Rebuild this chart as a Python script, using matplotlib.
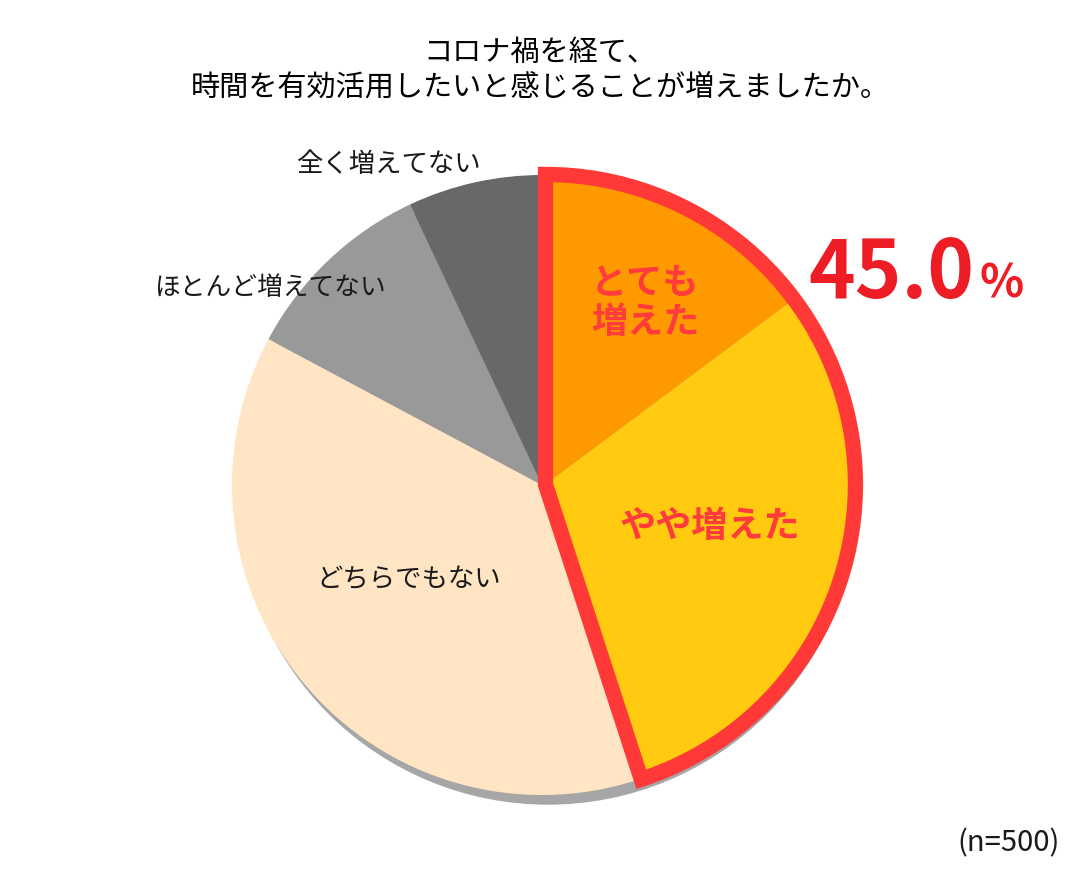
import numpy as np
import matplotlib.pyplot as plt
from matplotlib.patches import Wedge, Circle

plt.rcParams['font.family'] = ['Noto Sans CJK JP', 'DejaVu Sans']

# データ
labels = ['とても\n増えた', 'やや増えた', 'どちらでもない', 'ほとんど増えてない', '全く増えてない']
values = [14.8, 30.2, 37.8, 10.2, 7.0]
colors = ['#FF9900', '#FFCA10', '#FFE5C4', '#999999', '#686868']
title = 'コロナ禍を経て、\n時間を有効活用したいと感じることが増えましたか。'
total_label = '45.0'
n_label = '(n=500)'

fig = plt.figure(figsize=(10.8, 8.7), dpi=100)
ax = fig.add_axes([0, 0, 1, 1])

cx, cy, r = 542, 870 - 486, 310

# 影
ax.add_patch(Circle((cx + 6, cy - 9), r, color='#A6A6A6', zorder=0))

wedges, _ = ax.pie(values, colors=colors, startangle=90, counterclock=False,
                   center=(cx, cy), radius=r, frame=True,
                   wedgeprops=dict(linewidth=0))
ax.set_xlim(0, 1080)
ax.set_ylim(0, 870)
ax.set_aspect('equal')
ax.axis('off')

# 強調部分（とても＋やや）を少しずらして赤枠
t1 = wedges[1].theta1
t2 = wedges[0].theta2
mid = np.deg2rad((t1 + t2) / 2)
dx, dy = 3.5 * np.cos(mid), 3.5 * np.sin(mid)
for w in wedges[:2]:
    w.set_center((cx + dx, cy + dy))
ax.add_patch(Wedge((cx + dx, cy + dy), r, t1, t2, fill=False,
                   edgecolor='#FF3838', linewidth=11, joinstyle='miter', zorder=5))

# ラベル
red = '#FF3B3B'
ax.text(645, 870 - 303, labels[0], ha='center', va='center', fontsize=26,
        fontweight='bold', color=red, linespacing=1.05, zorder=6)
ax.text(710, 870 - 527, labels[1], ha='center', va='center', fontsize=26,
        fontweight='bold', color=red, zorder=6)
ax.text(409, 870 - 580, labels[2], ha='center', va='center', fontsize=19, color='#1a1a1a', zorder=6)
ax.text(270, 870 - 288, labels[3], ha='center', va='center', fontsize=18.5, color='#1a1a1a')
ax.text(388, 870 - 165, labels[4], ha='center', va='center', fontsize=19, color='#1a1a1a')

# 45.0%
t = ax.text(808, 870 - 298, total_label, ha='left', va='baseline', fontsize=57,
            fontweight='bold', color='#EE1C25')
fig.canvas.draw()
bb = t.get_window_extent()
ax.text(bb.x1 + 5, 870 - 298, '%', ha='left', va='baseline', fontsize=33,
        fontweight='bold', color='#EE1C25')

# タイトル
ax.text(540, 870 - 70, title, ha='center', va='center', fontsize=21,
        linespacing=1.2, color='black')

ax.text(1060, 870 - 843, n_label, ha='right', va='center', fontsize=21, color='#1a1a1a')

fig.savefig('out.png', dpi=100)
